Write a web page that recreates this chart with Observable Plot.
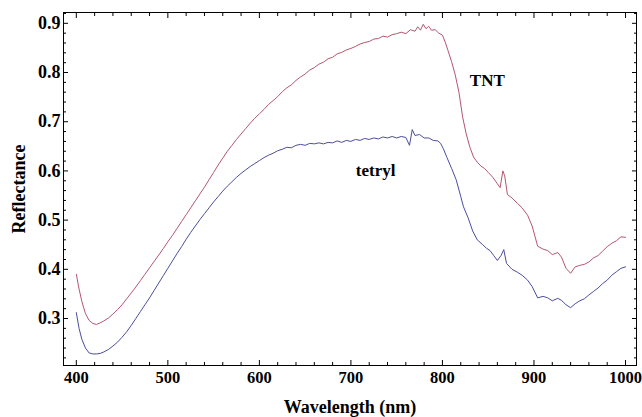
<!DOCTYPE html>
<html>
<head>
<meta charset="utf-8">
<script src="https://cdn.jsdelivr.net/npm/d3@7"></script>
<script src="https://cdn.jsdelivr.net/npm/@observablehq/plot@0.6"></script>
<style>
  html, body { margin: 0; padding: 0; background: #fff; }
</style>
</head>
<body>
<div id="chart"></div>
<script>
// Wavelength (nm) samples and reflectance values
const tntWavelength = [400,403,406,410,414,418,422,426,430,435,440,445,450,455,460,465,470,475,480,485,490,495,500,505,510,515,520,525,530,535,540,545,550,555,560,565,570,575,580,585,590,595,600,605,610,615,620,625,630,635,640,645,650,655,660,665,670,675,680,685,690,695,700,705,710,715,720,725,730,735,740,745,750,755,760,765,770,773,776,779,782,785,788,792,796,800,803,806,810,814,818,822,826,830,834,838,842,846,850,855,860,863,866,868,871,876,882,887,893,898,904,910,915,920,926,930,935,940,945,950,955,960,965,970,975,980,985,990,995,1000];
const tntReflectance = [0.390,0.360,0.335,0.310,0.296,0.290,0.288,0.291,0.295,0.301,0.309,0.318,0.328,0.340,0.352,0.364,0.377,0.390,0.403,0.416,0.429,0.442,0.456,0.469,0.483,0.497,0.511,0.525,0.539,0.553,0.567,0.582,0.597,0.612,0.626,0.640,0.652,0.664,0.675,0.686,0.697,0.707,0.716,0.725,0.735,0.743,0.751,0.761,0.769,0.775,0.784,0.791,0.797,0.805,0.810,0.817,0.821,0.828,0.831,0.838,0.841,0.846,0.849,0.853,0.858,0.861,0.863,0.868,0.869,0.874,0.872,0.877,0.879,0.882,0.879,0.887,0.884,0.893,0.886,0.898,0.889,0.894,0.886,0.887,0.880,0.876,0.862,0.845,0.822,0.795,0.760,0.710,0.675,0.648,0.628,0.618,0.610,0.605,0.597,0.587,0.574,0.566,0.600,0.590,0.552,0.545,0.534,0.525,0.510,0.488,0.447,0.441,0.438,0.430,0.434,0.425,0.402,0.392,0.405,0.408,0.410,0.415,0.423,0.428,0.437,0.446,0.453,0.458,0.466,0.465];

const tetrylWavelength = [400,403,406,410,414,418,422,426,430,435,440,445,450,455,460,465,470,475,480,485,490,495,500,505,510,515,520,525,530,535,540,545,550,555,560,565,570,575,580,585,590,595,600,605,610,615,620,625,630,635,640,645,650,655,660,665,670,675,680,685,690,695,700,705,710,715,720,725,730,735,740,745,750,755,760,764,767,770,775,780,785,790,795,798,801,805,810,815,820,823,828,833,838,844,848,852,856,860,864,867,870,876,882,887,893,898,904,910,915,920,926,930,935,940,945,950,955,960,965,970,975,980,985,990,995,1000];
const tetrylReflectance = [0.312,0.280,0.258,0.240,0.230,0.228,0.228,0.229,0.232,0.237,0.244,0.252,0.262,0.273,0.286,0.300,0.314,0.328,0.342,0.357,0.372,0.387,0.402,0.417,0.432,0.446,0.461,0.475,0.488,0.501,0.513,0.525,0.537,0.548,0.559,0.569,0.578,0.587,0.595,0.602,0.609,0.615,0.621,0.627,0.632,0.636,0.641,0.644,0.648,0.647,0.652,0.654,0.652,0.656,0.655,0.657,0.655,0.658,0.657,0.661,0.658,0.662,0.660,0.664,0.662,0.666,0.664,0.667,0.665,0.669,0.667,0.670,0.667,0.670,0.668,0.652,0.684,0.672,0.674,0.667,0.667,0.662,0.661,0.656,0.645,0.627,0.605,0.582,0.548,0.527,0.505,0.478,0.460,0.450,0.443,0.438,0.428,0.418,0.428,0.440,0.412,0.400,0.394,0.388,0.378,0.365,0.342,0.345,0.342,0.336,0.341,0.337,0.328,0.322,0.330,0.336,0.340,0.348,0.355,0.362,0.371,0.378,0.388,0.395,0.402,0.405];

const xTicks = [400, 500, 600, 700, 800, 900, 1000];
const yTicks = [0.3, 0.4, 0.5, 0.6, 0.7, 0.8, 0.9];
const seriesNames = ["TNT", "tetryl"];
const labelWavelength = [849, 727];
const labelReflectance = [0.784, 0.600];

const tnt = tntWavelength.map((w, i) => ({w, r: tntReflectance[i]}));
const tetryl = tetrylWavelength.map((w, i) => ({w, r: tetrylReflectance[i]}));
const labels = seriesNames.map((name, i) => ({name, w: labelWavelength[i], r: labelReflectance[i]}));

const xMinor = d3.range(400, 1001, 20).filter(v => v % 100 !== 0);
const yMinor = d3.range(22, 93, 2).map(v => v / 100).filter(v => Math.round(v * 100) % 10 !== 0);

const MAJ = 5, MIN = 3;
const tickStyle = {stroke: "#000", strokeWidth: 1};

const chart = Plot.plot({
  width: 642,
  height: 417,
  marginLeft: 63,
  marginRight: 6,
  marginTop: 12,
  marginBottom: 52,
  style: {fontFamily: "'Liberation Serif', 'Times New Roman', serif", fontSize: "18px", fontWeight: "bold", background: "#fff", color: "#000"},
  x: {domain: [386, 1012]},
  y: {domain: [0.2045, 0.922]},
  marks: [
    // inward ticks, bottom
    Plot.axisX({anchor: "bottom", ticks: xTicks, tickSize: MAJ, dy: -MAJ, text: null, label: null, ...tickStyle}),
    Plot.axisX({anchor: "bottom", ticks: xMinor, tickSize: MIN, dy: -MIN, text: null, label: null, ...tickStyle}),
    // inward ticks, top
    Plot.axisX({anchor: "top", ticks: xTicks, tickSize: MAJ, dy: MAJ, text: null, label: null, ...tickStyle}),
    Plot.axisX({anchor: "top", ticks: xMinor, tickSize: MIN, dy: MIN, text: null, label: null, ...tickStyle}),
    // inward ticks, left
    Plot.axisY({anchor: "left", ticks: yTicks, tickSize: MAJ, dx: MAJ, text: null, label: null, ...tickStyle}),
    Plot.axisY({anchor: "left", ticks: yMinor, tickSize: MIN, dx: MIN, text: null, label: null, ...tickStyle}),
    // inward ticks, right
    Plot.axisY({anchor: "right", ticks: yTicks, tickSize: MAJ, dx: -MAJ, text: null, label: null, ...tickStyle}),
    Plot.axisY({anchor: "right", ticks: yMinor, tickSize: MIN, dx: -MIN, text: null, label: null, ...tickStyle}),
    // tick labels and titles
    Plot.axisX({anchor: "bottom", ticks: xTicks, tickSize: 0, tickPadding: 6, tickFormat: d3.format("d"), fontSize: 16.5,
      label: null, fill: "#000"}),
    Plot.axisX({anchor: "bottom", ticks: [], tickSize: 0,
      label: "Wavelength (nm)", labelAnchor: "center", labelArrow: "none", labelOffset: 47, fill: "#000"}),
    Plot.axisY({anchor: "left", ticks: yTicks, tickSize: 0, tickPadding: 3, tickFormat: d3.format(".1f"),
      label: "Reflectance", labelAnchor: "center", labelArrow: "none", labelOffset: 51, fill: "#000"}),
    Plot.line(tnt, {x: "w", y: "r", stroke: "#b4566f", strokeWidth: 1}),
    Plot.line(tetryl, {x: "w", y: "r", stroke: "#4c4ca0", strokeWidth: 1}),
    Plot.text(labels, {x: "w", y: "r", text: "name", fill: "#000", fontSize: 17, fontWeight: "bold", textAnchor: "middle", lineAnchor: "middle"}),
    Plot.frame({stroke: "#000", strokeWidth: 1})
  ]
});
document.getElementById("chart").appendChild(chart);
</script>
</body>
</html>
